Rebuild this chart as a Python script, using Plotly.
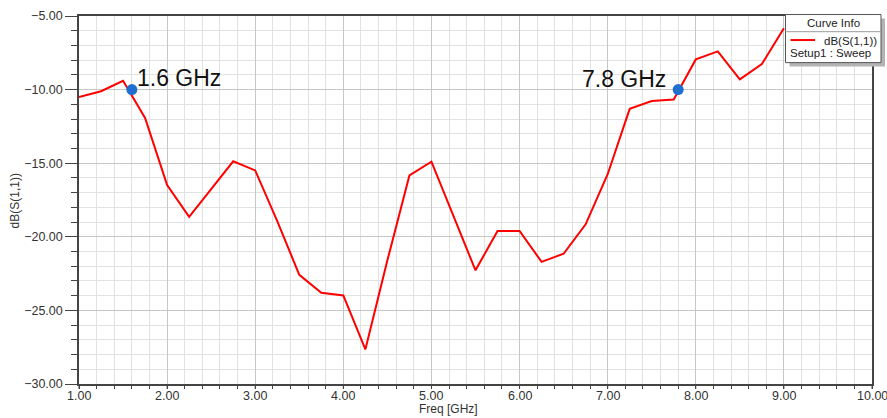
import plotly.graph_objects as go

# Return loss sweep, dB(S(1,1)) vs frequency
freq_ghz = [1.00, 1.25, 1.50, 1.75, 2.00, 2.25, 2.50, 2.75, 3.00, 3.25, 3.50,
            3.75, 4.00, 4.25, 4.50, 4.75, 5.00, 5.25, 5.50, 5.75, 6.00, 6.25,
            6.50, 6.75, 7.00, 7.25, 7.50, 7.75, 8.00, 8.25, 8.50, 8.75, 9.00]
s11_db = [-10.51, -10.11, -9.40, -11.93, -16.49, -18.65, -16.76, -14.87, -15.49,
          -18.93, -22.58, -23.80, -23.98, -27.65, -21.60, -15.83, -14.90, -18.60,
          -22.28, -19.60, -19.60, -21.70, -21.15, -19.15, -15.75, -11.31, -10.78,
          -10.67, -7.95, -7.40, -9.31, -8.27, -5.83]

# -10 dB band edge markers
marker_freq = [1.6, 7.8]
marker_db = [-10.0, -10.0]
marker_text = ["1.6 GHz", "7.8 GHz"]

x_ticks = [1, 2, 3, 4, 5, 6, 7, 8, 9, 10]
X_MIN, X_MAX = 1, 10

trace_name = "dB(S(1,1))"
setup_name = "Setup1 : Sweep"
legend_title = "Curve Info"

FONT = "Liberation Sans, Arial, sans-serif"
W, H = 887, 418
ML, MR, MT, MB = 79, 15, 9, 34
PW, PH = W - ML - MR, H - MT - MB


def px(x):
    return (x - ML) / PW


def py(y):
    return (H - MB - y) / PH


fig = go.Figure()
fig.add_trace(go.Scatter(
    x=freq_ghz, y=s11_db, mode="lines", name=trace_name,
    line=dict(color="#ff0000", width=2), showlegend=False,
))
fig.add_trace(go.Scatter(
    x=marker_freq, y=marker_db, mode="markers",
    marker=dict(color="#1f6fd0", size=11), showlegend=False,
))

# marker labels
fig.add_annotation(x=marker_freq[0], y=marker_db[0], text=marker_text[0],
                   showarrow=False, xanchor="left", yanchor="middle",
                   xshift=3, yshift=12,
                   font=dict(family=FONT, size=23, color="#111111"))
fig.add_annotation(x=marker_freq[1], y=marker_db[1], text=marker_text[1],
                   showarrow=False, xanchor="right", yanchor="middle",
                   xshift=-10, yshift=11,
                   font=dict(family=FONT, size=23, color="#111111"))

shapes = []
# x tick marks and labels, set close under the axis line
for t in x_ticks:
    xp = (t - X_MIN) / (X_MAX - X_MIN)
    shapes.append(dict(type="line", xref="paper", yref="paper",
                       x0=xp, x1=xp, y0=0, y1=-5 / PH,
                       line=dict(color="#444444", width=1)))
    fig.add_annotation(xref="paper", yref="paper", x=xp, y=py(396.5),
                       text=f"{t:.2f}", showarrow=False,
                       xanchor="center", yanchor="middle",
                       font=dict(family=FONT, size=12.5, color="#333333"))

# Curve info box
bx0, bx1, by0, by1 = 785.5, 881, 7.5, 56.5
shapes += [
    dict(type="rect", xref="paper", yref="paper",
         x0=px(bx0 + 4), x1=px(bx1 + 4), y0=py(by1 + 4), y1=py(by0 + 4),
         fillcolor="#b4b4b4", line=dict(width=0), layer="above"),
    dict(type="rect", xref="paper", yref="paper",
         x0=px(bx0), x1=px(bx1), y0=py(by1), y1=py(by0),
         fillcolor="white", line=dict(color="#555555", width=1), layer="above"),
    dict(type="line", xref="paper", yref="paper",
         x0=px(bx0), x1=px(bx1), y0=py(25), y1=py(25),
         line=dict(color="#9a9a9a", width=1), layer="above"),
    dict(type="line", xref="paper", yref="paper",
         x0=px(790.5), x1=px(815), y0=py(33.5), y1=py(33.5),
         line=dict(color="#ff0000", width=2), layer="above"),
]
fig.update_layout(shapes=shapes)
fig.add_annotation(xref="paper", yref="paper", x=px((bx0 + bx1) / 2), y=py(16.5),
                   text=legend_title, showarrow=False, xanchor="center", yanchor="middle",
                   font=dict(family=FONT, size=11.5, color="#222222"))
fig.add_annotation(xref="paper", yref="paper", x=px(879), y=py(34.5),
                   text=trace_name, showarrow=False, xanchor="right", yanchor="middle",
                   font=dict(family=FONT, size=11.5, color="#222222"))
fig.add_annotation(xref="paper", yref="paper", x=px(788), y=py(46.5),
                   text=setup_name, showarrow=False, xanchor="left", yanchor="middle",
                   font=dict(family=FONT, size=11.5, color="#222222"))

# axis titles
fig.add_annotation(xref="paper", yref="paper", x=px(448), y=py(409.5),
                   text="Freq [GHz]", showarrow=False, xanchor="center", yanchor="middle",
                   font=dict(family=FONT, size=12, color="#333333"))
fig.add_annotation(xref="paper", yref="paper", x=px(15), y=py(198),
                   text="dB(S(1,1))", showarrow=False, textangle=-90,
                   xanchor="center", yanchor="middle",
                   font=dict(family=FONT, size=12, color="#333333"))

axis_common = dict(
    showline=True, linecolor="#444444", linewidth=1.5, mirror=True,
    gridcolor="#c6c6c6", gridwidth=1, zeroline=False,
    tickcolor="#444444", tickwidth=1,
    tickformat=".2f",
    tickfont=dict(family=FONT, size=12.5, color="#333333"),
)

fig.update_xaxes(
    range=[X_MIN, X_MAX], tickvals=x_ticks, ticks="", showticklabels=False,
    minor=dict(dtick=0.2, tick0=1, showgrid=True, gridcolor="#e2e2e2", ticks="outside",
               ticklen=3, tickcolor="#444444"),
    **axis_common,
)
fig.update_yaxes(
    range=[-30, -5], dtick=5, tick0=-30, ticks="outside", ticklen=12,
    minor=dict(dtick=1, showgrid=True, gridcolor="#e2e2e2", ticks="outside",
               ticklen=6, tickcolor="#444444"),
    **axis_common,
)

fig.update_layout(
    width=W, height=H,
    margin=dict(l=ML, r=MR, t=MT, b=MB),
    paper_bgcolor="white", plot_bgcolor="white",
    font=dict(family=FONT),
    showlegend=False,
)

fig.write_html("out.html")
